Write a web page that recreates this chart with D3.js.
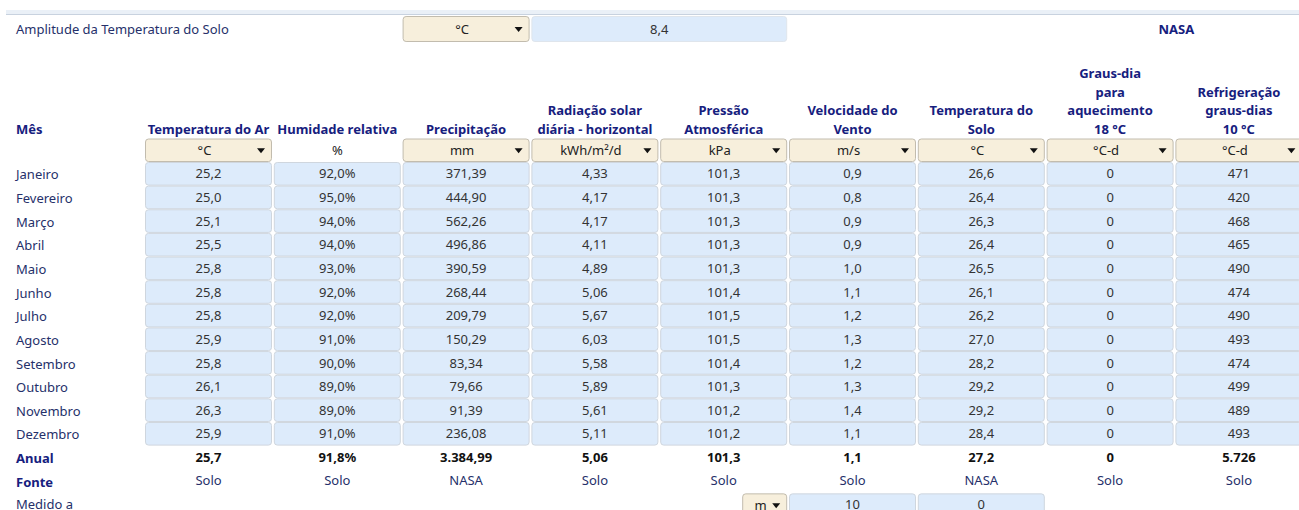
<!DOCTYPE html>
<html>
<head>
<meta charset="utf-8">
<script src="https://cdn.jsdelivr.net/npm/d3@7"></script>
<style>
  body { margin: 0; background: #fff; }
  svg { display: block; font-family: "Noto Sans", Lato, sans-serif; }
</style>
</head>
<body>
<svg id="svgContent" width="1299" height="510"></svg>
<script>
// data
const months = ['Janeiro', 'Fevereiro', 'Março', 'Abril', 'Maio', 'Junho', 'Julho', 'Agosto', 'Setembro', 'Outubro', 'Novembro', 'Dezembro']
const airTemp = [25.2, 25.0, 25.1, 25.5, 25.8, 25.8, 25.8, 25.9, 25.8, 26.1, 26.3, 25.9]
const humidity = [92.0, 95.0, 94.0, 94.0, 93.0, 92.0, 92.0, 91.0, 90.0, 89.0, 89.0, 91.0]
const precipitation = [371.39, 444.90, 562.26, 496.86, 390.59, 268.44, 209.79, 150.29, 83.34, 79.66, 91.39, 236.08]
const radiation = [4.33, 4.17, 4.17, 4.11, 4.89, 5.06, 5.67, 6.03, 5.58, 5.89, 5.61, 5.11]
const pressure = [101.3, 101.3, 101.3, 101.3, 101.3, 101.4, 101.5, 101.5, 101.4, 101.3, 101.2, 101.2]
const windSpeed = [0.9, 0.8, 0.9, 0.9, 1.0, 1.1, 1.2, 1.3, 1.2, 1.3, 1.4, 1.1]
const soilTemp = [26.6, 26.4, 26.3, 26.4, 26.5, 26.1, 26.2, 27.0, 28.2, 29.2, 29.2, 28.4]
const heatingDD = [0, 0, 0, 0, 0, 0, 0, 0, 0, 0, 0, 0]
const coolingDD = [471, 420, 468, 465, 490, 474, 490, 493, 474, 499, 489, 493]

const annual = [25.7, 91.8, 3384.99, 5.06, 101.3, 1.1, 27.2, 0, 5726]
const sources = ['Solo', 'Solo', 'NASA', 'Solo', 'Solo', 'Solo', 'NASA', 'Solo', 'Solo']
const units = ['°C', '%', 'mm', 'kWh/m²/d', 'kPa', 'm/s', '°C', '°C-d', '°C-d']
const hasDropdown = [true, false, true, true, true, true, true, true, true]
const headers = [
    ['Temperatura do Ar'],
    ['Humidade relativa'],
    ['Precipitação'],
    ['Radiação solar', 'diária - horizontal'],
    ['Pressão', 'Atmosférica'],
    ['Velocidade do', 'Vento'],
    ['Temperatura do', 'Solo'],
    ['Graus-dia', 'para', 'aquecimento', '18 °C'],
    ['Refrigeração', 'graus-dias', '10 °C']
]
const decimals = [1, 1, 2, 2, 1, 1, 1, 0, 0]
const soilAmplitude = 8.4
const measuredAt = [10, 0]

const svg = d3.select('#svgContent')
const width = +svg.attr('width')

const pt = d3.formatLocale({ decimal: ',', thousands: '.', grouping: [3], currency: ['', ''] })
const fmt = (v, i) => {
    const s = pt.format(',.' + decimals[i] + 'f')(v)
    return i === 1 ? s + '%' : s
}

const series = [airTemp, humidity, precipitation, radiation, pressure, windSpeed, soilTemp, heatingDD, coolingDD]

// column and row scales
const cols = d3.range(series.length)
const x = d3.scaleBand().domain(cols).range([145, 145 + 128.6 * cols.length]).paddingInner(0.014).paddingOuter(0)
const rowKeys = [...months, 'Anual', 'Fonte', 'Medido a']
const y = d3.scaleBand().domain(rowKeys).range([163, 163 + 23.5 * rowKeys.length]).paddingInner(0.085).paddingOuter(0)

const fs = '13px'
const headFs = '13px'
const labelColor = '#25306a'
const headColor = '#16207e'
const valueColor = '#333333'
const blueFill = '#ddebfb'
const beigeFill = '#f7efdc'

// thin band at the top (rest of the sheet above)
svg.append('rect').attr('x', 6).attr('y', 10).attr('width', width).attr('height', 5).attr('fill', '#eaf0f7')
svg.append('line').attr('x1', 6).attr('x2', width).attr('y1', 14.5).attr('y2', 14.5).attr('stroke', '#c8d2df')

function cell(g, x0, y0, w, h, fill, stroke) {
    g.append('rect')
        .attr('x', x0 + 0.5).attr('y', y0 + 0.5)
        .attr('width', w - 1).attr('height', h - 1)
        .attr('rx', 3).attr('ry', 3)
        .attr('fill', fill)
        .attr('stroke', stroke)
        .attr('stroke-width', 1)
}

function dropdown(g, x0, y0, w, h, label) {
    cell(g, x0, y0, w, h, beigeFill, '#c2bcae')
    g.append('text')
        .attr('x', x0 + w / 2 - 4).attr('y', y0 + h / 2)
        .attr('dy', '0.36em')
        .attr('text-anchor', 'middle')
        .style('font-size', fs)
        .style('fill', '#222')
        .text(label)
    const ax = x0 + w - 11, ay = y0 + h / 2 - 2
    g.append('path')
        .attr('d', `M${ax - 4},${ay} L${ax + 4},${ay} L${ax},${ay + 5} Z`)
        .attr('fill', '#111')
}

// top row: soil temperature amplitude
const topRow = svg.append('g').attr('class', 'top')
topRow.append('text')
    .attr('x', 16).attr('y', 29).attr('dy', '0.36em')
    .style('font-size', fs).style('fill', labelColor)
    .text('Amplitude da Temperatura do Solo')
dropdown(topRow, x(2), 16, x.bandwidth(), 26, '°C')
cell(topRow, x(3), 16, x(4) + x.bandwidth() - x(3), 26, blueFill, '#dfe5ec')
topRow.append('text')
    .attr('x', (x(3) + x(4) + x.bandwidth()) / 2).attr('y', 29).attr('dy', '0.36em')
    .attr('text-anchor', 'middle')
    .style('font-size', fs).style('fill', valueColor)
    .text(pt.format(',.1f')(soilAmplitude))
topRow.append('text')
    .attr('x', x(8) + 1).attr('y', 29).attr('dy', '0.36em')
    .attr('text-anchor', 'middle')
    .style('font-size', fs).style('fill', headColor).style('font-weight', 'bold')
    .text('NASA')

// headers
const head = svg.append('g').attr('class', 'headers')
head.append('text')
    .attr('x', 16).attr('y', 134)
    .style('font-size', headFs).style('font-weight', 'bold').style('fill', headColor)
    .text('Mês')
const lineH = 18.7
head.selectAll('text.colhead')
    .data(headers)
    .join('text')
    .attr('class', 'colhead')
    .attr('text-anchor', 'middle')
    .attr('x', (d, i) => x(i) + x.bandwidth() / 2)
    .attr('y', d => 134 - (d.length - 1) * lineH)
    .style('font-size', headFs).style('font-weight', 'bold').style('fill', headColor)
    .selectAll('tspan')
    .data(d => d)
    .join('tspan')
    .attr('x', function () { return this.parentNode.getAttribute('x') })
    .attr('dy', (d, j) => j === 0 ? 0 : lineH)
    .text(d => d)

// units row
const unitRow = svg.append('g').attr('class', 'units')
cols.forEach(i => {
    if (hasDropdown[i]) {
        dropdown(unitRow, x(i), 138.5, x.bandwidth(), 23.5, units[i])
    } else {
        unitRow.append('text')
            .attr('x', x(i) + x.bandwidth() / 2).attr('y', 150).attr('dy', '0.36em')
            .attr('text-anchor', 'middle')
            .style('font-size', fs).style('fill', '#222')
            .text(units[i])
    }
})

// month labels
svg.append('g').selectAll('text')
    .data(months)
    .join('text')
    .attr('x', 16)
    .attr('y', d => y(d) + y.bandwidth() / 2 + 1)
    .attr('dy', '0.36em')
    .style('font-size', fs).style('fill', labelColor)
    .text(d => d)

// value cells
const body = svg.append('g').attr('class', 'body')
cols.forEach(i => {
    const colG = body.append('g')
    series[i].forEach((v, m) => {
        cell(colG, x(i), y(months[m]) - 1, x.bandwidth(), y.bandwidth() + 2, blueFill, '#cfd6de')
    })
    colG.selectAll('text')
        .data(series[i])
        .join('text')
        .attr('x', x(i) + x.bandwidth() / 2)
        .attr('y', (d, m) => y(months[m]) + y.bandwidth() / 2)
        .attr('dy', '0.36em')
        .attr('text-anchor', 'middle')
        .style('font-size', fs).style('fill', valueColor)
        .text(d => fmt(d, i))
})

// annual / source rows
const foot = svg.append('g').attr('class', 'footer')
const footLabels = ['Anual', 'Fonte']
foot.selectAll('text.flabel')
    .data(footLabels)
    .join('text')
    .attr('class', 'flabel')
    .attr('x', 16)
    .attr('y', d => y(d) + y.bandwidth() / 2 + 1)
    .attr('dy', '0.36em')
    .style('font-size', headFs).style('font-weight', 'bold').style('fill', headColor)
    .text(d => d)
foot.append('text')
    .attr('x', 16)
    .attr('y', y('Medido a') + y.bandwidth() / 2 - 0.5)
    .attr('dy', '0.36em')
    .style('font-size', fs).style('fill', labelColor)
    .text('Medido a')

foot.selectAll('text.annual')
    .data(annual)
    .join('text')
    .attr('class', 'annual')
    .attr('x', (d, i) => x(i) + x.bandwidth() / 2)
    .attr('y', y('Anual') + y.bandwidth() / 2)
    .attr('dy', '0.36em')
    .attr('text-anchor', 'middle')
    .style('font-size', headFs).style('font-weight', 'bold').style('fill', '#111')
    .text((d, i) => fmt(d, i))

foot.selectAll('text.source')
    .data(sources)
    .join('text')
    .attr('class', 'source')
    .attr('x', (d, i) => x(i) + x.bandwidth() / 2)
    .attr('y', y('Fonte') + y.bandwidth() / 2 - 1)
    .attr('dy', '0.36em')
    .attr('text-anchor', 'middle')
    .style('font-size', fs).style('fill', labelColor)
    .text(d => d)

// measured at: height dropdown + two value cells
const yM = y('Medido a') - 0.5
dropdown(foot, x(4) + 82, yM, x.bandwidth() - 82, 24, 'm')
measuredAt.forEach((v, k) => {
    cell(foot, x(5 + k), yM, x.bandwidth(), 24, blueFill, '#cfd6de')
    foot.append('text')
        .attr('x', x(5 + k) + x.bandwidth() / 2)
        .attr('y', yM + 10.5)
        .attr('dy', '0.36em')
        .attr('text-anchor', 'middle')
        .style('font-size', fs).style('fill', valueColor)
        .text(v)
})
</script>
</body>
</html>
